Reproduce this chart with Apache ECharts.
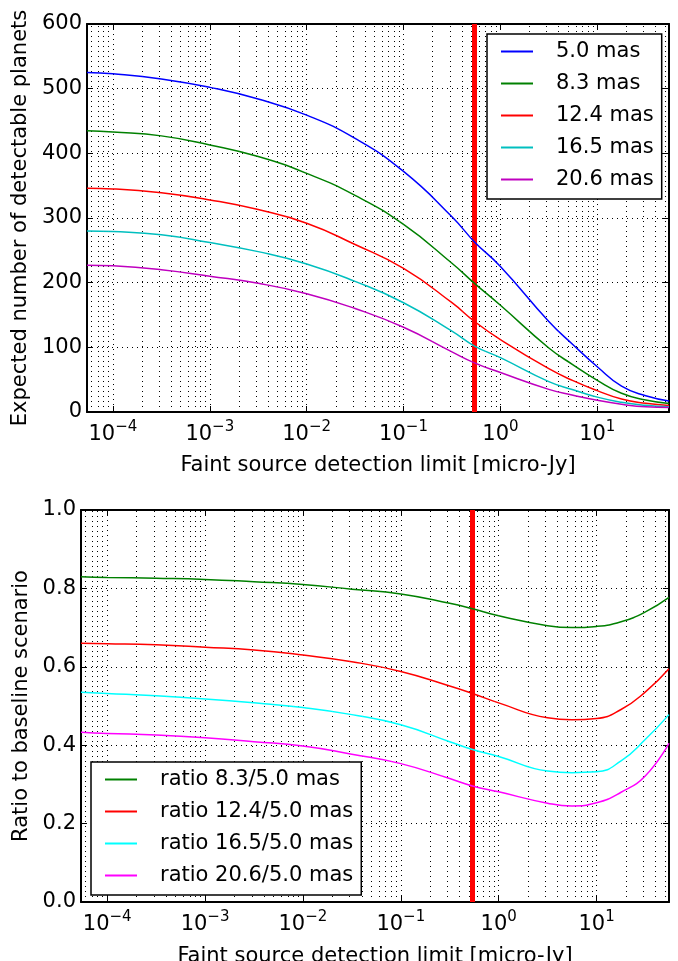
<!DOCTYPE html>
<html>
<head>
<meta charset="utf-8">
<script src="https://cdn.jsdelivr.net/npm/echarts@6/dist/echarts.min.js"></script>
<style>html,body{margin:0;padding:0;background:#fff}#chart{width:678px;height:961px}</style>
</head>
<body>
<div id="chart"></div>
<script>
// faint source detection limit [micro-Jy] at which the curves are sampled
const limits = [5.4e-5, 1e-4, 3.16e-4, 1e-3, 3.16e-3, 0.01, 0.0316, 0.1, 0.316, 0.54, 1, 3.16, 5.62, 10, 17.8, 31.6, 55];
const xRange = [5.4e-5, 55];
const detectionLimit = 0.54;

// top panel: expected number of detectable planets
const planetNames = ['5.0 mas', '8.3 mas', '12.4 mas', '16.5 mas', '20.6 mas'];
const planets50 = [525, 523, 515, 502, 484, 459, 423, 372, 302, 263, 225, 140, 104, 70, 40, 25, 17];
const planets83 = [435, 433, 427, 413, 395, 369, 335, 290, 230, 199, 165, 99, 73, 49, 29, 18.5, 13.2];
const planets124 = [346, 345, 339, 328, 313, 292, 259, 222, 169, 140, 112, 67, 48.5, 33, 20, 13.4, 10.1];
const planets165 = [280, 279, 274, 262, 248, 229, 202, 169, 125, 102, 84, 47, 34.5, 23, 15, 10.3, 8.1];
const planets206 = [227, 226, 220, 210, 199, 183, 160, 131, 93, 76, 61, 35, 26, 18, 12, 8, 7];
const planetTicks = [0, 100, 200, 300, 400, 500, 600];

// bottom panel: ratio to the 5.0 mas baseline
const ratioNames = ['ratio 8.3/5.0 mas', 'ratio 12.4/5.0 mas', 'ratio 16.5/5.0 mas', 'ratio 20.6/5.0 mas'];
const ratio83 = [0.830, 0.828, 0.826, 0.823, 0.817, 0.810, 0.798, 0.786, 0.762, 0.748, 0.730, 0.705, 0.700, 0.703, 0.715, 0.740, 0.777];
const ratio124 = [0.660, 0.659, 0.656, 0.650, 0.643, 0.630, 0.613, 0.588, 0.551, 0.532, 0.508, 0.470, 0.465, 0.468, 0.491, 0.536, 0.595];
const ratio165 = [0.535, 0.532, 0.526, 0.518, 0.508, 0.496, 0.478, 0.452, 0.409, 0.389, 0.371, 0.334, 0.330, 0.332, 0.360, 0.415, 0.478];
const ratio206 = [0.433, 0.430, 0.426, 0.419, 0.409, 0.398, 0.377, 0.353, 0.315, 0.296, 0.281, 0.252, 0.245, 0.253, 0.280, 0.322, 0.405];
const ratioTicks = [0, 0.2, 0.4, 0.6, 0.8, 1.0];

const font = 'DejaVu Sans';
const dotted = { color: '#000', width: 1, type: [1, 4] };

// minor log gridlines 2..9 x 10^n
const minorValues = [];
for (let e = -5; e <= 1; e++) {
  for (let m = 2; m <= 9; m++) {
    const v = m * Math.pow(10, e);
    if (v > xRange[0] && v < xRange[1]) minorValues.push(v);
  }
}

function pairs(ys) {
  return limits.map((x, i) => [x, ys[i]]);
}

function vline(v, ticks) {
  return [{ coord: [v, ticks[0]] }, { coord: [v, ticks[ticks.length - 1]] }];
}

function logAxis(gridIndex, position, withLabels, gap) {
  return {
    type: 'log', logBase: 10, gridIndex: gridIndex, position: position,
    min: xRange[0], max: xRange[1],
    axisLine: { show: true, onZero: false, lineStyle: { color: '#000', width: 2 } },
    axisTick: { show: true, inside: true, length: 6, lineStyle: { color: '#000', width: 1 } },
    splitLine: { show: withLabels, lineStyle: dotted },
    axisLabel: {
      show: withLabels, margin: 8, showMinLabel: false, showMaxLabel: false,
      formatter: function (v) {
        const e = Math.round(Math.log10(v));
        return '{b|10}{s|' + String(e).replace('-', '\u2212') + '}';
      },
      rich: {
        b: { fontSize: 21, fontFamily: font, color: '#000', verticalAlign: 'bottom' },
        s: { fontSize: 15, fontFamily: font, color: '#000', verticalAlign: 'bottom', padding: [0, 0, 10, 0] }
      }
    },
    name: withLabels ? 'Faint source detection limit [micro-Jy]' : '',
    nameLocation: 'middle', nameGap: gap,
    nameTextStyle: { fontSize: 21, fontFamily: font, color: '#000' }
  };
}

function valueAxis(gridIndex, position, ticks, digits, title, gap) {
  const withLabels = position === 'left';
  return {
    type: 'value', gridIndex: gridIndex, position: position,
    min: ticks[0], max: ticks[ticks.length - 1], interval: ticks[1] - ticks[0],
    axisLine: { show: true, onZero: false, lineStyle: { color: '#000', width: 2 } },
    axisTick: { show: true, inside: true, length: 6, lineStyle: { color: '#000', width: 1 } },
    splitLine: { show: withLabels, lineStyle: dotted },
    axisLabel: {
      show: withLabels, margin: 5, fontSize: 21, fontFamily: font, color: '#000',
      formatter: v => v.toFixed(digits)
    },
    name: withLabels ? title : '', nameLocation: 'middle', nameGap: gap, nameRotate: 90,
    nameTextStyle: { fontSize: 21, fontFamily: font, color: '#000' }
  };
}

function curve(name, ys, color, xi, yi) {
  return {
    name: name, type: 'line', xAxisIndex: xi, yAxisIndex: yi, data: pairs(ys),
    smooth: 0.5, showSymbol: false, symbol: 'none', z: 5,
    lineStyle: { color: color, width: 1.5 }, itemStyle: { color: color }
  };
}

function helpers(xi, yi, ticks) {
  return [
    {
      name: 'minor' + xi, type: 'line', xAxisIndex: xi, yAxisIndex: yi, data: [], z: 1, silent: true,
      markLine: { silent: true, symbol: 'none', label: { show: false }, animation: false,
        lineStyle: dotted, data: minorValues.map(v => vline(v, ticks)) }
    },
    {
      name: 'limit' + xi, type: 'line', xAxisIndex: xi, yAxisIndex: yi, data: [], z: 10, silent: true,
      markLine: { silent: true, symbol: 'none', label: { show: false }, animation: false,
        lineStyle: { color: '#ff0000', width: 5, type: 'solid' }, data: [vline(detectionLimit, ticks)] }
    }
  ];
}

function legendCfg(names, left, top) {
  return {
    data: names, orient: 'vertical', left: left, top: top,
    icon: 'rect', itemWidth: 32, itemHeight: 2, itemGap: 11,
    padding: [7, 8, 9, 14], borderColor: '#000', borderWidth: 1.5, backgroundColor: '#fff',
    selectedMode: false, z: 20,
    formatter: name => '{s|}' + name,
    textStyle: { fontSize: 21, fontFamily: font, color: '#000', lineHeight: 20, rich: { s: { width: 18 } } }
  };
}

const chart = echarts.init(document.getElementById('chart'));
chart.setOption({
  animation: false,
  backgroundColor: '#fff',
  grid: [
    { left: 87, right: 9, top: 24, height: 388, outerBoundsMode: 'none' },
    { left: 81, right: 9, top: 510, height: 392, outerBoundsMode: 'none' }
  ],
  legend: [
    legendCfg(planetNames, 487, 34),
    legendCfg(ratioNames, 91, 762)
  ],
  xAxis: [
    logAxis(0, 'bottom', true, 43), logAxis(0, 'top', false, 0),
    logAxis(1, 'bottom', true, 44), logAxis(1, 'top', false, 0)
  ],
  yAxis: [
    valueAxis(0, 'left', planetTicks, 0, 'Expected number of detectable planets', 54),
    valueAxis(0, 'right', planetTicks, 0, '', 0),
    valueAxis(1, 'left', ratioTicks, 1, 'Ratio to baseline scenario', 48),
    valueAxis(1, 'right', ratioTicks, 1, '', 0)
  ],
  series: [
    ...helpers(0, 0, planetTicks),
    curve(planetNames[0], planets50, '#0000ff', 0, 0),
    curve(planetNames[1], planets83, '#008000', 0, 0),
    curve(planetNames[2], planets124, '#ff0000', 0, 0),
    curve(planetNames[3], planets165, '#00bfbf', 0, 0),
    curve(planetNames[4], planets206, '#bf00bf', 0, 0),
    ...helpers(2, 2, ratioTicks),
    curve(ratioNames[0], ratio83, '#008000', 2, 2),
    curve(ratioNames[1], ratio124, '#ff0000', 2, 2),
    curve(ratioNames[2], ratio165, '#00ffff', 2, 2),
    curve(ratioNames[3], ratio206, '#ff00ff', 2, 2)
  ]
});
</script>
</body>
</html>
